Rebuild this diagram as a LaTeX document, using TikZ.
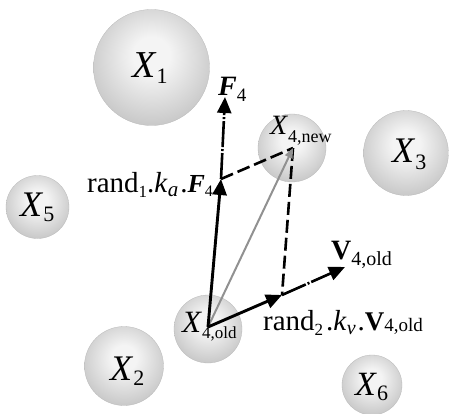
\documentclass[tikz,border=0pt]{standalone}
\usepackage{fontspec}
\setmainfont{Liberation Serif}
\usepackage{graphicx}
\usetikzlibrary{arrows.meta}
\definecolor{ballin}{RGB}{244,244,244}
\definecolor{ballout}{RGB}{140,140,140}
\definecolor{arrgray}{RGB}{145,145,145}
\pgfdeclareradialshading{gball}{\pgfpoint{0bp}{6bp}}{color(0bp)=(ballin); color(8bp)=(ballin); color(56bp)=(ballout); color(60bp)=(ballout)}
\newcommand\lab[4]{{\fontsize{#1}{#1}\selectfont\textit{X}}\raisebox{-#3pt}{\fontsize{#2}{#2}\selectfont #4}}
\tikzset{
  ball/.style={circle, inner sep=0pt, shading=gball, draw=gray!55, line width=0.3pt},
  lbl/.style={anchor=base west, inner sep=0pt},
  vec/.style={line width=2.9pt, -{Triangle[length=16pt,width=14pt]}},
  vecdd/.style={line width=2.6pt, dash pattern=on 26pt off 2pt on 2pt off 2pt, -{Triangle[length=16pt,width=14pt]}},
  gvec/.style={line width=2pt, draw=arrgray, -{Triangle[length=10pt,width=8pt]}},
  dsh/.style={line width=2.6pt, dash pattern=on 13pt off 5pt}
}
\begin{document}
\begin{tikzpicture}[x=1pt,y=-1pt]
\fill[white] (0,0) rectangle (449,414);
\useasboundingbox (0,0) rectangle (449,414);
% spheres
\node[ball, minimum size=116pt] (c1) at (151.5,67.5) {};
\node[ball, minimum size=79pt] (c2) at (124,366) {};
\node[ball, minimum size=85pt] (c3) at (406,153) {};
\node[ball, minimum size=63pt] (c5) at (37.5,207) {};
\node[ball, minimum size=68pt] (c4o) at (208,329) {};
\node[ball, minimum size=68pt] (c4n) at (292,148) {};
\node[ball, minimum size=60pt] (c6) at (372,385) {};
% sphere labels
\node[lbl] (t1) at (132,78) {\lab{38}{22}{6}{1}};
\node[lbl] (t2) at (110,380) {\lab{36}{22}{5}{2}};
\node[lbl] (t3) at (392,163) {\lab{36}{22}{6}{3}};
\node[lbl] (t5) at (20,216) {\lab{36}{22}{5}{5}};
\node[lbl] (t6) at (355,395) {\lab{34}{22}{5}{6}};
\node[lbl] (t4o) at (182,332) {\lab{31}{17}{6}{4,old}};
\node[lbl] (t4n) at (270,135) {\lab{28}{18}{8}{4,new}};
% vector points
\coordinate (O) at (208,327);
\coordinate (R1) at (221,179);
\coordinate (FT) at (225,97);
\coordinate (N) at (293,148);
\coordinate (R2) at (282,295);
\coordinate (VT) at (345,267);
% connectors
\draw[dsh] (R1) -- (N);
\draw[dsh] (N) -- (R2);
\draw[gvec] (O) -- (N);
\draw[vec] (O) -- (R1);
\draw[vecdd] (R1) -- (FT);
\draw[vec] (O) -- (R2);
\draw[vecdd] (R2) -- (VT);
% vector labels
\node[lbl] (lf) at (218,96) {{\fontsize{28}{28}\selectfont\textbf{\textit{F}}}\raisebox{-6pt}{\fontsize{19}{19}\selectfont 4}};
\node[lbl] (lv) at (331,259) {{\fontsize{28}{28}\selectfont\textbf{V}}\raisebox{-6pt}{\fontsize{20}{20}\selectfont 4,old}};
\node[lbl] (lr1) at (87,192) {\fontsize{29}{29}\selectfont rand\raisebox{-5pt}{\fontsize{17}{17}\selectfont 1}.\textit{k}\raisebox{-4pt}{\fontsize{21}{21}\selectfont\textit{a}}\kern2pt.{\fontsize{26}{26}\selectfont\textbf{\textit{F}}}\raisebox{-4pt}{\fontsize{16}{16}\selectfont 4}};
\node[lbl] (lr2) at (263,330) {\fontsize{29}{29}\selectfont rand\raisebox{-5pt}{\fontsize{17}{17}\selectfont 2}\kern3pt.\textit{k}\raisebox{-4pt}{\fontsize{20}{20}\selectfont\textit{v}}\kern2pt.{\fontsize{27}{27}\selectfont\textbf{V}}\raisebox{-1pt}{\fontsize{19}{19}\selectfont 4,old}};
\end{tikzpicture}
\end{document}
